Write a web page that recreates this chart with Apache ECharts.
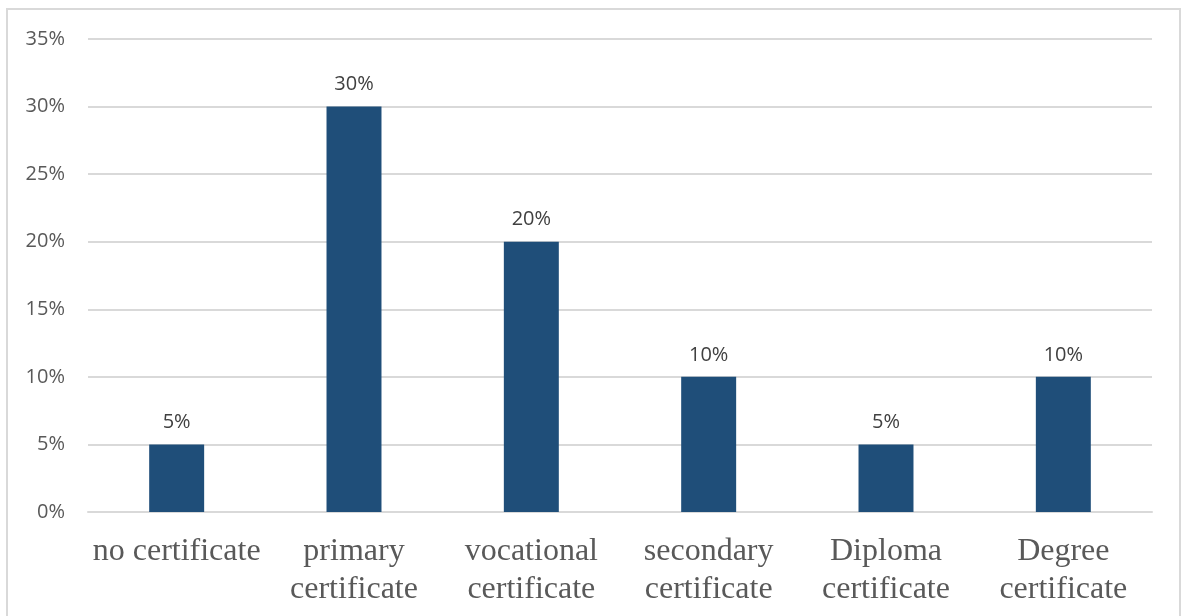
<!DOCTYPE html>
<html>
<head>
<meta charset="utf-8">
<script src="https://cdn.jsdelivr.net/npm/echarts@6/dist/echarts.min.js"></script>
<style>
html,body{margin:0;padding:0;background:#fff;}
#chart{width:1187px;height:616px;}
</style>
</head>
<body>
<div id="chart"></div>
<script>
const categories = ['no certificate', 'primary\ncertificate', 'vocational\ncertificate', 'secondary\ncertificate', 'Diploma\ncertificate', 'Degree\ncertificate'];
const values = [5, 30, 20, 10, 5, 10];
const yTicks = [0, 5, 10, 15, 20, 25, 30, 35];

const chart = echarts.init(document.getElementById('chart'), null, {renderer: 'canvas'});
chart.setOption({
  animation: false,
  backgroundColor: '#ffffff',
  graphic: [{
    type: 'rect',
    shape: {x: 7, y: 9, width: 1173, height: 640},
    style: {fill: 'none', stroke: '#d9d9d9', lineWidth: 2},
    silent: true
  }],
  grid: {left: 88, right: 35, top: 39, bottom: 104, containLabel: false},
  xAxis: {
    type: 'category',
    data: categories,
    axisLine: {show: true, lineStyle: {color: '#d9d9d9', width: 2}},
    axisTick: {show: false},
    axisLabel: {
      fontFamily: 'Liberation Serif, Times New Roman, serif',
      fontSize: 32,
      color: '#595959',
      lineHeight: 38,
      margin: 21,
      interval: 0
    }
  },
  yAxis: {
    type: 'value',
    min: yTicks[0],
    max: yTicks[yTicks.length - 1],
    interval: 5,
    axisLine: {show: false},
    axisTick: {show: false},
    splitLine: {lineStyle: {color: '#d9d9d9', width: 2}},
    axisLabel: {
      formatter: v => v + '%',
      fontFamily: 'Open Sans, Liberation Sans, sans-serif',
      fontSize: 20,
      color: '#595959',
      margin: 23
    }
  },
  series: [{
    type: 'bar',
    data: values,
    barWidth: '31%',
    itemStyle: {color: '#1f4e79'},
    label: {
      show: true,
      position: 'top',
      distance: 12,
      formatter: p => p.value + '%',
      fontFamily: 'Open Sans, Liberation Sans, sans-serif',
      fontSize: 20,
      color: '#404040'
    }
  }]
});
</script>
</body>
</html>
